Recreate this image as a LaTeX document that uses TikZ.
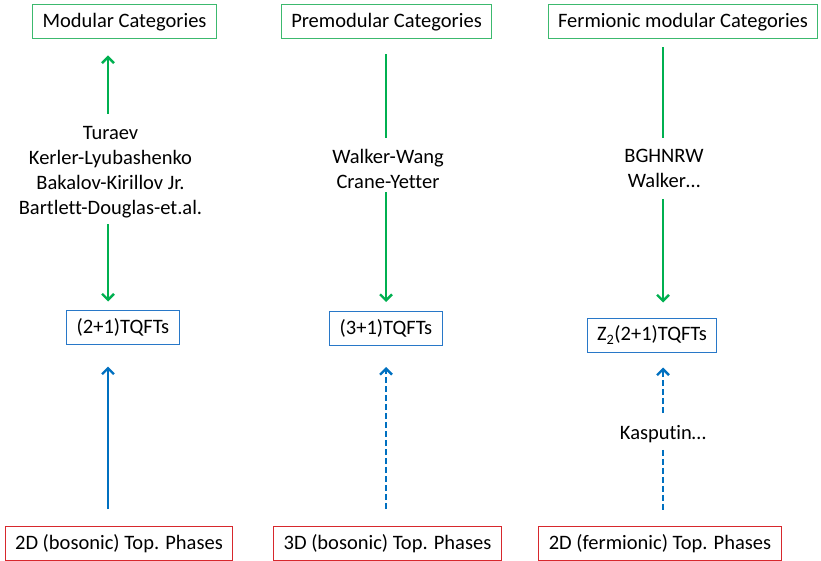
\documentclass[tikz,border=0pt]{standalone}
\usepackage{fontspec}
\setmainfont{Carlito}[Ligatures=CommonOff]
\usetikzlibrary{arrows.meta,calc}
\definecolor{ogreen}{RGB}{0,176,80}
\definecolor{ogreenbox}{RGB}{60,185,110}
\definecolor{oblue}{RGB}{0,112,192}
\definecolor{obluebox}{RGB}{40,120,200}
\definecolor{ored}{RGB}{215,40,45}
\begin{document}
\begin{tikzpicture}[x=1pt,y=-1pt,
  every node/.style={font=\fontsize{20.5}{25}\selectfont},
  catbox/.style={draw=ogreenbox,line width=1pt,minimum height=34pt,inner xsep=10pt,inner ysep=0pt},
  tqftbox/.style={draw=obluebox,line width=1pt,minimum height=34pt,inner xsep=10pt,inner ysep=0pt},
  phasebox/.style={draw=ored,line width=1pt,minimum height=34pt,inner xsep=10pt,inner ysep=0pt},
  lab/.style={align=center,inner sep=0pt},
  garrow/.style={draw=ogreen,line width=2.4pt,-{Straight Barb[length=6pt,width=12pt]}},
  gline/.style={draw=ogreen,line width=2.4pt},
  barrow/.style={draw=oblue,line width=2.4pt,-{Straight Barb[length=6pt,width=12pt]}},
  bdash/.style={draw=oblue,line width=2.4pt,dash pattern=on 6pt off 3pt},
  bdarrow/.style={bdash,-{Straight Barb[length=6pt,width=12pt]}}
]
\useasboundingbox (0,0) rectangle (821,561);
% column axes
\coordinate (c1) at (108,0);
\coordinate (c2) at (386,0);
\coordinate (c3) at (663,0);
% top boxes
\node[catbox] (mod1) at (124.5,22) {Modular Categories};
\node[catbox] (mod2) at (386.5,22) {Premodular Categories};
\node[catbox] (mod3) at (683,22) {Fermionic modular Categories};
% labels
\node[lab] (lab1) at (110.5,172) {Turaev\\Kerler-Lyubashenko\\Bakalov-Kirillov Jr.\\Bartlett-Douglas-et.al.};
\node[lab] (lab2) at (388,168.5) {Walker-Wang\\Crane-Yetter};
\node[lab] (lab3) at (664,168.5) {BGHNRW\\Walker\ldots};
% TQFT boxes
\node[tqftbox] (tq1) at (123,327) {(2+1)TQFTs};
\node[tqftbox] (tq2) at (386,328.5) {(3+1)TQFTs};
\node[tqftbox] (tq3) at (652,335) {Z\textsubscript{2}(2+1)TQFTs};
% Kasputin
\node[lab] (kas) at (663,434) {Kasputin\ldots};
% phase boxes
\node[phasebox] (ph1) at (119,543.5) {2D (bosonic) Top. Phases};
\node[phasebox] (ph2) at (387.5,543.5) {3D (bosonic) Top. Phases};
\node[phasebox] (ph3) at (660,543.5) {2D (fermionic) Top. Phases};
% column 1
\draw[garrow,shorten <=12pt,shorten >=16pt] (lab1.north -| c1) -- (mod1.south -| c1);
\draw[garrow,shorten <=6pt,shorten >=8pt] (lab1.south -| c1) -- (tq1.north -| c1);
\draw[barrow,shorten <=17pt,shorten >=22pt] (ph1.north -| c1) -- (tq1.south -| c1);
% column 2
\draw[gline,shorten <=15pt,shorten >=11pt] (mod2.south -| c2) -- (lab2.north -| c2);
\draw[garrow,shorten <=4pt,shorten >=9pt] (lab2.south -| c2) -- (tq2.north -| c2);
\draw[bdarrow,shorten <=17pt,shorten >=21pt] (ph2.north -| c2) -- (tq2.south -| c2);
% column 3
\draw[gline,shorten <=8pt,shorten >=11pt] (mod3.south -| c3) -- (lab3.north -| c3);
\draw[garrow,shorten <=11pt,shorten >=15pt] (lab3.south -| c3) -- (tq3.north -| c3);
\draw[bdarrow,shorten <=12pt,shorten >=15pt] (kas.north -| c3) -- (tq3.south -| c3);
\draw[bdash,shorten <=7pt,shorten >=15pt] (kas.south -| c3) -- (ph3.north -| c3);
\end{tikzpicture}
\end{document}
